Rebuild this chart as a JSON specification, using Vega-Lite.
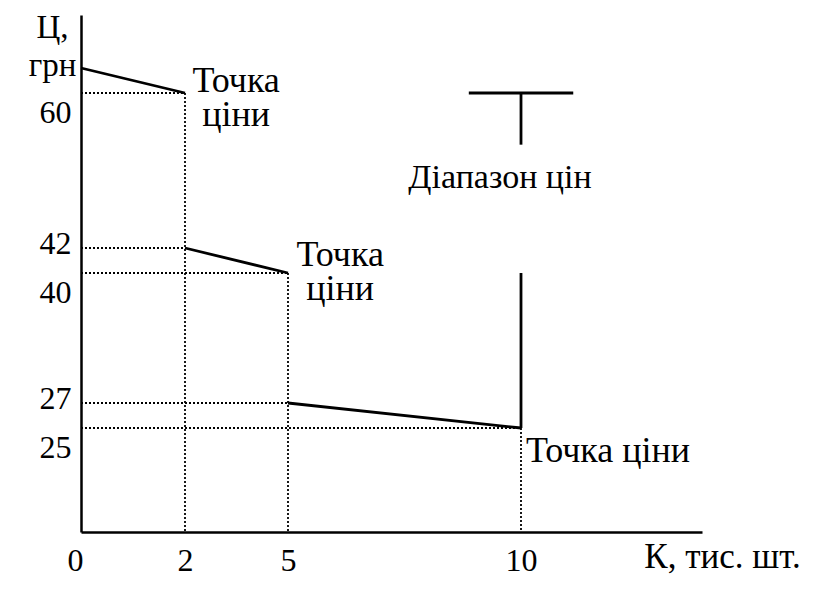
{
  "$schema": "https://vega.github.io/schema/vega-lite/v6.json",
  "width": 621,
  "height": 517,
  "autosize": "none",
  "padding": {"left": 81, "top": 15, "right": 124, "bottom": 73},
  "background": "white",
  "config": {"view": {"stroke": null}},
  "datasets": {
    "solid": [
      {"x": 0, "y": 62, "x2": 2, "y2": 60},
      {"x": 2, "y": 42, "x2": 5, "y2": 40},
      {"x": 5, "y": 27, "x2": 10, "y2": 25},
      {"x": 8.88, "y": 60, "x2": 11.12, "y2": 60},
      {"x": 10, "y": 60, "x2": 10, "y2": 54},
      {"x": 10, "y": 40, "x2": 10, "y2": 25}
    ],
    "dotted": [
      {"x": 0, "y": 60, "x2": 2, "y2": 60},
      {"x": 0, "y": 42, "x2": 2, "y2": 42},
      {"x": 0, "y": 40, "x2": 5, "y2": 40},
      {"x": 0, "y": 27, "x2": 5, "y2": 27},
      {"x": 0, "y": 25, "x2": 10, "y2": 25},
      {"x": 2, "y": 60, "x2": 2, "y2": 16.68},
      {"x": 5, "y": 40, "x2": 5, "y2": 16.68},
      {"x": 10, "y": 25, "x2": 10, "y2": 16.68}
    ],
    "labels": [
      {"x": 3.49, "y": 60.08, "label": "Точка|ціни", "kind": "point"},
      {"x": 6.12, "y": 40.56, "label": "Точка|ціни", "kind": "point"},
      {"x": 11.865, "y": 22.28, "label": "Точка ціни", "kind": "point"},
      {"x": 9.55, "y": 48.97, "label": "Діапазон цін", "kind": "range"}
    ]
  },
  "encoding": {
    "x": {
      "field": "x",
      "type": "quantitative",
      "scale": {"domain": [0, 2, 5, 10, 13.88], "range": [0, 104, 207, 440, 621], "zero": false, "nice": false},
      "axis": {
        "values": [0, 2, 5, 10],
        "title": "К, тис. шт.",
        "ticks": false,
        "tickSize": 0,
        "grid": false,
        "domainColor": "black",
        "domainWidth": 2.5,
        "labelFont": "Liberation Serif",
        "labelFontSize": 32,
        "labelColor": "black",
        "labelBaseline": "alphabetic",
        "labelPadding": 38,
        "labelOffset": {"condition": {"test": "datum.value == 0", "value": -6}, "value": 0},
        "labelFlush": false,
        "labelOverlap": false,
        "titleFont": "Liberation Serif",
        "titleFontSize": 35,
        "titleFontWeight": "normal",
        "titleColor": "black",
        "titleX": 641,
        "titleY": 35,
        "titleAlign": "center",
        "titleBaseline": "alphabetic"
      }
    },
    "y": {
      "field": "y",
      "type": "quantitative",
      "scale": {"domain": [16.68, 25, 27, 40, 42, 60, 62, 66.24], "range": [517, 413, 388, 258, 233, 78, 53, 0], "zero": false, "nice": false},
      "axis": {
        "values": [25, 27, 40, 42, 60],
        "title": ["Ц,", "грн"],
        "ticks": false,
        "tickSize": 0,
        "grid": false,
        "domainColor": "black",
        "domainWidth": 2.5,
        "labelFont": "Liberation Serif",
        "labelFontSize": 32,
        "labelColor": "black",
        "labelBaseline": "alphabetic",
        "labelPadding": 10,
        "labelOffset": {"condition": {"test": "datum.value == 42 || datum.value == 27", "value": 5}, "value": 29},
        "labelFlush": false,
        "labelOverlap": false,
        "titleFont": "Liberation Serif",
        "titleFontSize": 33,
        "titleFontWeight": "normal",
        "titleColor": "black",
        "titleAngle": 0,
        "titleX": -29,
        "titleY": 22,
        "titleAlign": "center",
        "titleBaseline": "alphabetic",
        "titleLineHeight": 38
      }
    }
  },
  "layer": [
    {
      "data": {"name": "dotted"},
      "mark": {"type": "rule", "color": "black", "strokeWidth": 1.8, "strokeDash": [2, 2]},
      "encoding": {"x2": {"field": "x2"}, "y2": {"field": "y2"}}
    },
    {
      "data": {"name": "solid"},
      "mark": {"type": "rule", "color": "black", "strokeWidth": 2.8},
      "encoding": {"x2": {"field": "x2"}, "y2": {"field": "y2"}}
    },
    {
      "data": {"name": "labels"},
      "transform": [{"filter": "datum.kind == 'point'"}],
      "mark": {"type": "text", "font": "Liberation Serif", "fontSize": 36, "color": "black", "align": "center", "baseline": "alphabetic", "lineBreak": "|", "lineHeight": 33.5},
      "encoding": {"text": {"field": "label"}}
    },
    {
      "data": {"name": "labels"},
      "transform": [{"filter": "datum.kind == 'range'"}],
      "mark": {"type": "text", "font": "Liberation Serif", "fontSize": 34, "color": "black", "align": "center", "baseline": "alphabetic"},
      "encoding": {"text": {"field": "label"}}
    }
  ]
}
